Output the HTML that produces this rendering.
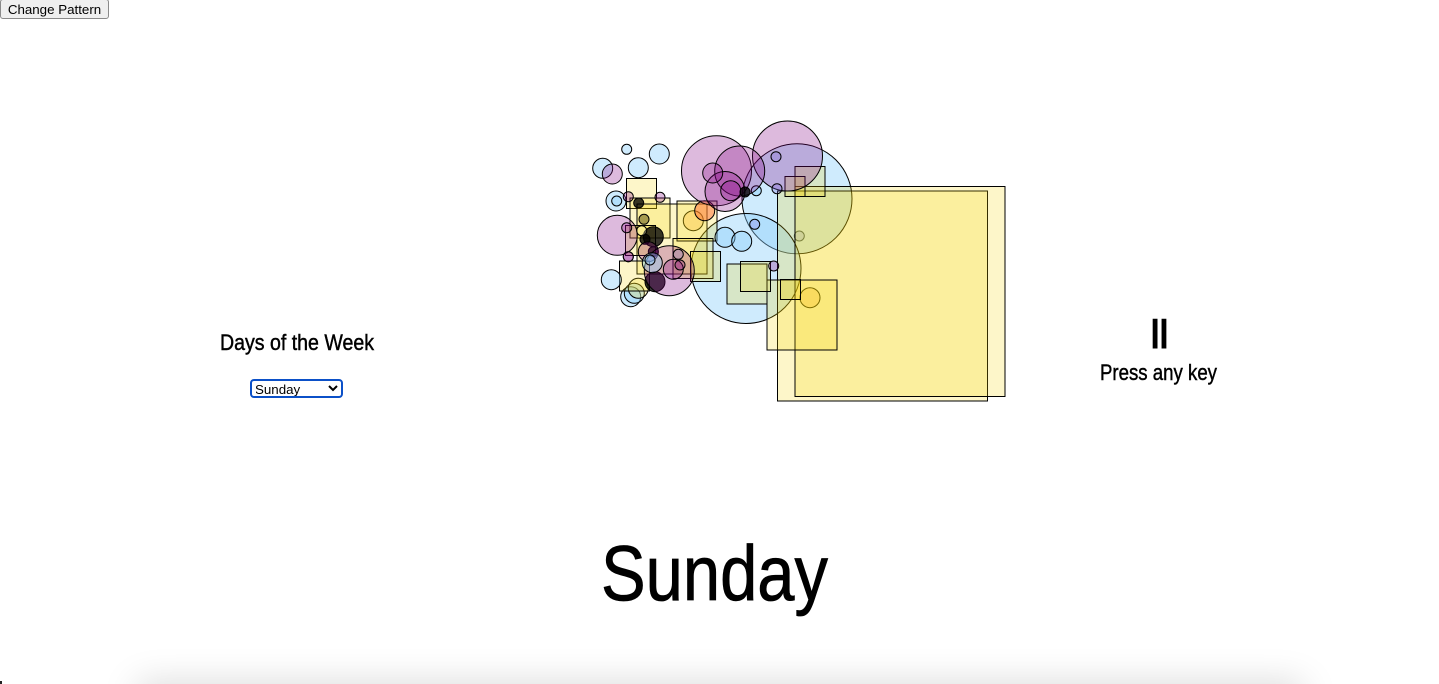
<!DOCTYPE html>
<html>
<head>
<meta charset="utf-8">
<title>Days of the Week</title>
<style>
html,body{margin:0;padding:0;background:#fff;width:1439px;height:684px;overflow:hidden}
body{position:relative;font-family:"Liberation Sans",sans-serif}
#pattern-button{position:absolute;left:0;top:-1px;width:109px;height:20px;padding:0;margin:0;font:13.33px "Liberation Sans",sans-serif;color:#000;background:#efefef;border:1px solid #8a8a8a;border-radius:3px;box-sizing:border-box}
#day-select{position:absolute;left:250px;top:379px;width:93px;height:19px;margin:0;padding:0;text-indent:-1px;box-sizing:border-box;font:13.33px "Liberation Sans",sans-serif;color:#000;background:#fff;border:2px solid #0b50c8;border-radius:4px}
#stage{position:absolute;left:0;top:0}
#bottom-shadow{position:absolute;left:138px;width:1164px;top:684px;height:30px;box-shadow:0 0 36px rgba(0,0,0,.17)}
#window-corner{position:absolute;left:0;top:681px;width:2px;height:3px;background:#222}
</style>
</head>
<body>
<svg id="stage" width="1439" height="684" viewBox="0 0 1439 684" xmlns="http://www.w3.org/2000/svg">
  <g id="marks"></g>
  <text x="220" y="350" font-family="Liberation Sans, sans-serif" font-size="22" textLength="154" lengthAdjust="spacingAndGlyphs" fill="#000" stroke="#000" stroke-width="0.45">Days of the Week</text>
  <text x="1149.2" y="348" font-family="Liberation Sans, sans-serif" font-size="42" letter-spacing="-2.7" fill="#000" stroke="#000" stroke-width="0.9">II</text>
  <text x="1100" y="380" font-family="Liberation Sans, sans-serif" font-size="22" textLength="117" lengthAdjust="spacingAndGlyphs" fill="#000" stroke="#000" stroke-width="0.45">Press any key</text>
  <text x="601" y="600" font-family="Liberation Sans, sans-serif" font-size="78" textLength="227" lengthAdjust="spacingAndGlyphs" fill="#000" stroke="#000" stroke-width="0.8">Sunday</text>
</svg>
<button id="pattern-button">Change Pattern</button>
<select id="day-select">
  <option>Sunday</option><option>Monday</option><option>Tuesday</option><option>Wednesday</option><option>Thursday</option><option>Friday</option><option>Saturday</option>
</select>
<div id="bottom-shadow"></div>
<div id="window-corner"></div>
<script>
const markShapes = [
  'c','c','c',
  'c','c','c','c','c','c',
  's','s','s','s','s','s','s','s','s','s','s','s','s','s','s','s',
  'c','c','c','c','c','c','c','c','c','c','c','c','c',
  'c','c','c','c','c','c',
  'c','c','c','c','c','c','c','c','c','c','c','c','c','c','c','c','c','c','c','c','c','c','c'
];
const markKinds = [
  'peach','peach','lavender',
  'blue','blue','lavender','blue','blue','yellow',
  'yellow','yellow','yellow','yellow','yellow','yellow','yellow','yellow','yellow','yellow','yellow','yellow','yellow','yellow','yellow','yellow',
  'blue','blue','blue','blue','blue','blue','blue','blue','blue','blue','purple','purple','orange',
  'olive','black','black','black','black','black',
  'purple','purple','purple','purple','purple','purple','lavender','lavender','black','purple','purple','purple','purple','purple','purple','purple','purple','purple','blue','blue','lavender','pale','purple'
];
const markX = [
  810,693.3,799.3,
  797,746,754.7,630.7,634.3,638.3,
  882.5,900,802,810,795,747,755.5,790.5,641.5,650,672,697,693,705.5,640.5,634.5,
  626.7,659.3,638.3,602.7,616,616.7,611.3,725,741.7,756.3,612.3,628.3,704.7,
  644,638.7,653.3,645,653.3,655,
  787.5,716.5,739.7,725,712.7,730.7,776,777,745,773.7,660,617.3,626.7,648.3,669.3,673.3,680,628.3,652.3,650,678.3,641.7,628.3
];
const markY = [
  297.7,220.7,236,
  198.8,268.5,224.3,296.7,293.3,288.3,
  296,291.5,315,181.5,186.5,284,276.5,289.5,193.5,218,239,221,258.5,266.5,240.5,276,
  149.3,154,167.7,168.3,201,201,279.7,237.3,241.3,190.7,174,196.7,210.7,
  219.3,203,236.7,239.3,251.7,281.7,
  156,170.7,171,191.5,173,190.7,156.7,188.7,192,266,197.3,235.3,227.7,251.7,270.7,269.3,265,256.7,262.7,260,254.3,230.7,256.7
];
const markSizes = [
  20,20,10,
  110,110,10,20,20,20,
  210,210,70,30,20,40,30,20,30,40,70,40,40,30,30,30,
  10,20,20,20,20,10,20,20,20,10,20,10,20,
  10,10,20,10,10,20,
  70,70,50,40,20,20,10,10,10,10,10,40,10,20,50,20,10,10,20,10,10,10,10
];
const kindFills = {
  blue:'rgba(135,206,250,.4)',
  purple:'rgba(128,0,128,.27)',
  lavender:'rgba(120,100,220,.27)',
  yellow:'rgba(245,212,0,.21)',
  orange:'rgba(255,110,50,.5)',
  peach:'rgba(255,165,60,.3)',
  olive:'rgba(80,70,0,.5)',
  black:'rgba(0,0,0,.78)',
  pale:'rgba(255,255,210,.28)'
};
const originX = 0, originY = 0, unit = 1;
function xAxis(v){ return originX + v * unit; }
function yAxis(v){ return originY + v * unit; }
function sizeAxis(v){ return v * unit; }
const NS = 'http://www.w3.org/2000/svg';
const marksGroup = document.getElementById('marks');
markX.forEach(function(value, i){
  const cx = xAxis(value), cy = yAxis(markY[i]), size = sizeAxis(markSizes[i]);
  const isCircle = markShapes[i] === 'c';
  const el = document.createElementNS(NS, isCircle ? 'circle' : 'rect');
  if (isCircle) {
    el.setAttribute('cx', cx);
    el.setAttribute('cy', cy);
    el.setAttribute('r', size / 2);
  } else {
    el.setAttribute('x', cx - size / 2);
    el.setAttribute('y', cy - size / 2);
    el.setAttribute('width', size);
    el.setAttribute('height', size);
  }
  el.setAttribute('fill', kindFills[markKinds[i]]);
  el.setAttribute('stroke', '#000');
  el.setAttribute('stroke-width', '1');
  
  
  marksGroup.appendChild(el);
});
</script>
</body>
</html>
